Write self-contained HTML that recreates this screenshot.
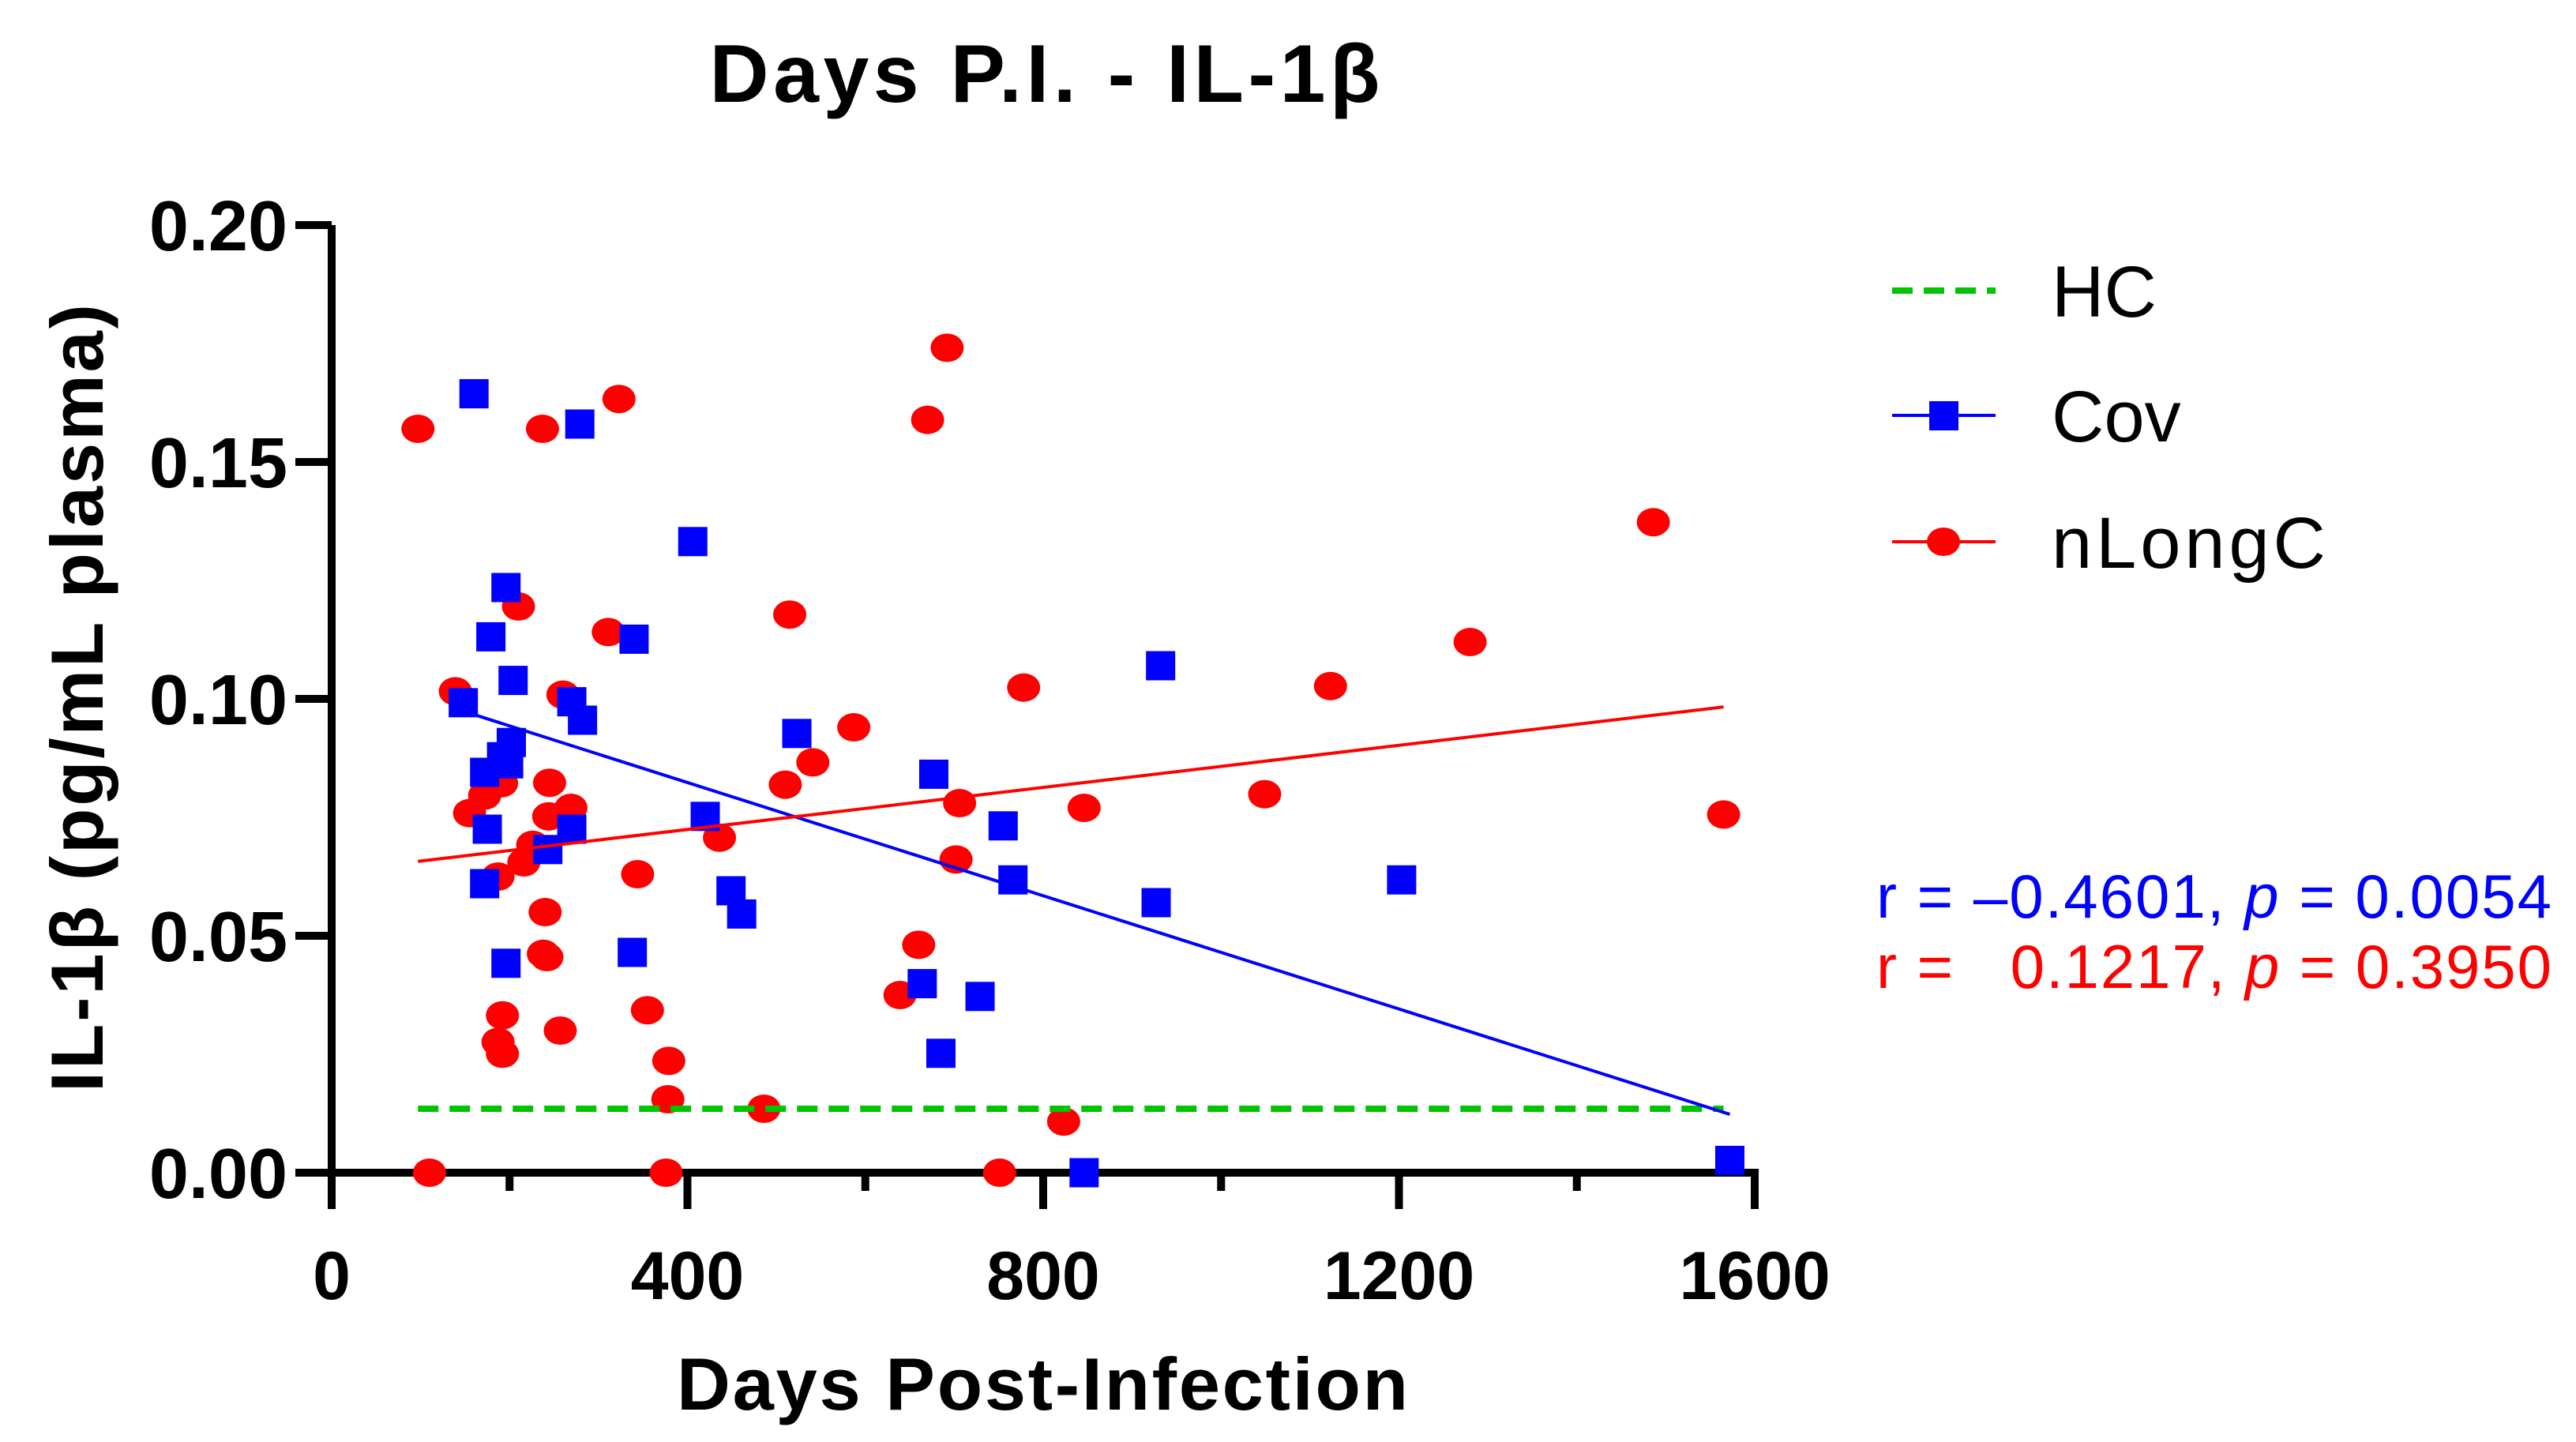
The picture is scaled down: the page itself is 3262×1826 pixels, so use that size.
<!DOCTYPE html>
<html><head><meta charset="utf-8"><style>
html,body{margin:0;padding:0;background:#fff;}
svg{display:block;font-family:"Liberation Sans",Arial,sans-serif;}
</style></head><body>
<svg id="chart" width="3262" height="1826" viewBox="0 0 3262 1826">
<text x="1323" y="129" font-size="104" font-weight="bold" text-anchor="middle" textLength="849">Days P.I. - IL-1β</text>
<g id="axes"></g>
<g id="marks"></g>
<text x="1320" y="1785" font-size="94" font-weight="bold" text-anchor="middle" textLength="926">Days Post-Infection</text>
<text transform="translate(130,884) rotate(-90)" font-size="94" font-weight="bold" text-anchor="middle" textLength="998">IL-1β (pg/mL plasma)</text>
<g>
 <g>
  <line x1="2396" y1="368" x2="2527" y2="368" stroke="#00c400" stroke-width="8" stroke-dasharray="26,14"/>
  <text x="2598" y="401" font-size="92">HC</text>
 </g>
 <g>
  <line x1="2396" y1="526" x2="2527" y2="526" stroke="#0000ff" stroke-width="4"/>
  <rect x="2443" y="508" width="37" height="37" fill="#0000ff"/>
  <text x="2598" y="559" font-size="92">Cov</text>
 </g>
 <g>
  <line x1="2396" y1="686" x2="2527" y2="686" stroke="#ff0000" stroke-width="4"/>
  <ellipse cx="2461" cy="686" rx="21" ry="18" fill="#ff0000"/>
  <text x="2598" y="719" font-size="92" textLength="347">nLongC</text>
 </g>
</g>
<text x="2376" y="1162" font-size="78" fill="#0000ff" textLength="855" xml:space="preserve">r = –0.4601, <tspan font-style="italic">p</tspan> = 0.0054</text>
<text x="2376" y="1251" font-size="78" fill="#ff0000" textLength="855" xml:space="preserve">r =   0.1217, <tspan font-style="italic">p</tspan> = 0.3950</text>
</svg>
<script>
const xTicks = [0, 400, 800, 1200, 1600];
const yTicks = [0, 0.05, 0.10, 0.15, 0.20];
const yTickLabels = ["0.00", "0.05", "0.10", "0.15", "0.20"];
const hcValue = 0.0135;
const hcRange = [97, 1565];
const covDays = [160,279,406,196,179,204,148,270,282,340,202,191,199,172,175,270,243,172,196,338,420,449,461,523,677,755,766,932,927,664,729,685,846,1203,1572];
const covVals = [0.1644,0.158,0.1332,0.1235,0.1131,0.1039,0.0992,0.0994,0.0955,0.1126,0.0908,0.0878,0.0863,0.0845,0.0725,0.0725,0.0682,0.061,0.0442,0.0465,0.0752,0.0595,0.0546,0.0927,0.0841,0.0732,0.0618,0.107,0.057,0.0399,0.0372,0.0252,0,0.0618,0.0026];
const ncDays = [97,110,139,155,172,191,210,187,216,226,192,187,192,237,245,244,269,260,240,238,242,257,323,311,344,355,379,378,376,436,486,515,510,541,587,639,660,670,692,706,702,778,751,823,846,1049,1123,1280,1486,1565];
const ncVals = [0.157,0,0.1016,0.0759,0.0796,0.0822,0.1195,0.0625,0.0655,0.0692,0.0332,0.0276,0.0251,0.157,0.0823,0.0752,0.077,0.1009,0.055,0.0462,0.0455,0.030,0.1633,0.1141,0.063,0.0343,0.0236,0.0155,0,0.0707,0.0135,0.1178,0.0819,0.0866,0.094,0.0375,0.0481,0.1589,0.1741,0.078,0.0661,0.1024,0,0.0108,0.077,0.0799,0.1027,0.112,0.1373,0.0756];

const NS = "http://www.w3.org/2000/svg";
const X0 = 420, X1 = 2222, Y0 = 1485, Y1 = 285;
const sx = d => X0 + (d - 0) / 1600 * (X1 - X0);
const sy = v => Y0 - v / 0.2 * (Y0 - Y1);
function mk(tag, attrs, parent) {
  const e = document.createElementNS(NS, tag);
  for (const k in attrs) e.setAttribute(k, attrs[k]);
  parent.appendChild(e);
  return e;
}
const axes = document.getElementById('axes');
const marks = document.getElementById('marks');

let yl = mk('line', {x1: X0, y1: Y1, x2: X0, y2: 1531, stroke: '#000', 'stroke-width': 10}, axes);


let xl = mk('line', {x1: 374, y1: Y0, x2: X1 + 5, y2: Y0, stroke: '#000', 'stroke-width': 10}, axes);



yTicks.forEach((v, i) => {
  const y = sy(v);
  const t = mk('line', {x1: 374, y1: y, x2: X0, y2: y, stroke: '#000', 'stroke-width': 10}, axes);
  
  
  const lb = mk('text', {x: 364, y: y + 32, 'font-size': 90, 'font-weight': 'bold', 'text-anchor': 'end'}, axes);
  lb.textContent = yTickLabels[i];
  
  
});
for (let d = 200; d < 1600; d += 400) {
  const x = sx(d);
  const t = mk('line', {x1: x, y1: Y0, x2: x, y2: 1508, stroke: '#000', 'stroke-width': 10}, axes);
  
  
}
xTicks.forEach(d => {
  const x = sx(d);
  const t = mk('line', {x1: x, y1: Y0, x2: x, y2: 1531, stroke: '#000', 'stroke-width': 10}, axes);
  
  
  const lb = mk('text', {x: x, y: 1645, 'font-size': 86, 'font-weight': 'bold', 'text-anchor': 'middle'}, axes);
  lb.textContent = String(d);
  
  
});

function fit(xs, ys) {
  const n = xs.length;
  const mx = xs.reduce((a, b) => a + b, 0) / n, my = ys.reduce((a, b) => a + b, 0) / n;
  let sxy = 0, sxx = 0;
  for (let i = 0; i < n; i++) { sxy += (xs[i] - mx) * (ys[i] - my); sxx += (xs[i] - mx) ** 2; }
  const b = sxy / sxx;
  return [b, my - b * mx];
}

ncDays.forEach((d, i) => {
  const c = mk('ellipse', {cx: sx(d), cy: sy(ncVals[i]), rx: 21, ry: 18, fill: '#ff0000'}, marks);
  
  
});
covDays.forEach((d, i) => {
  const r = mk('rect', {x: sx(d) - 18.5, y: sy(covVals[i]) - 18.5, width: 37, height: 37, fill: '#0000ff'}, marks);
  
  
});

const hc = mk('line', {x1: sx(hcRange[0]), y1: sy(hcValue), x2: sx(hcRange[1]), y2: sy(hcValue), stroke: '#00c400', 'stroke-width': 8, 'stroke-dasharray': '26,14'}, marks);



const [bc, ac] = fit(covDays, covVals);
const cmin = Math.min(...covDays), cmax = Math.max(...covDays);
const cl = mk('line', {x1: sx(cmin), y1: sy(ac + bc * cmin), x2: sx(cmax), y2: sy(ac + bc * cmax), stroke: '#0000ff', 'stroke-width': 4}, marks);



const [bn, an] = fit(ncDays, ncVals);
const nmin = Math.min(...ncDays), nmax = Math.max(...ncDays);
const nl = mk('line', {x1: sx(nmin), y1: sy(an + bn * nmin), x2: sx(nmax), y2: sy(an + bn * nmax), stroke: '#ff0000', 'stroke-width': 4}, marks);


</script>
</body></html>
